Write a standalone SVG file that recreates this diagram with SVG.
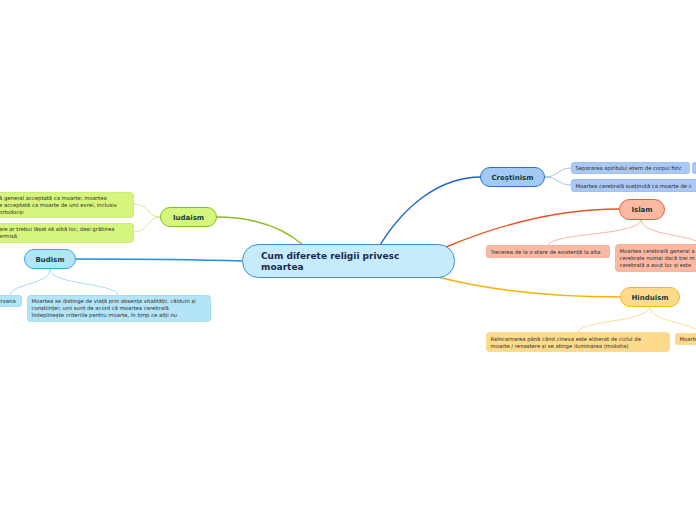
<svg xmlns="http://www.w3.org/2000/svg" width="696" height="520" viewBox="0 0 696 520">
<style>
.t{font-family:"DejaVu Sans",Verdana,sans-serif;font-size:5.3px;fill:#2b2b2b}
.h{font-family:"DejaVu Sans",Verdana,sans-serif;font-size:7px;font-weight:bold;fill:#173b38;text-anchor:middle}
.c{font-family:"DejaVu Sans",Verdana,sans-serif;font-size:9px;font-weight:bold;fill:#1b2a4c}
.thin{fill:none;stroke-width:0.8}
.main{fill:none;stroke-width:1.4}
</style>
<rect width="696" height="520" fill="#ffffff"/>
<g id="connectors">
<path class="main" stroke="#1a5fd6" d="M380,245 C405,205 440,177 481,177"/>
<path class="main" stroke="#f0521e" d="M446,247 C515,218 575,209 620,209"/>
<path class="main" stroke="#f9ae14" d="M438,277 C500,293 570,297 621,297"/>
<path class="main" stroke="#8bbd1a" d="M303,245 C280,225 250,217 216,217"/>
<path class="main" stroke="#1a8fe0" d="M243,261 C180,259 120,259 75,259"/>
<path class="thin" stroke="#8ab0ee" d="M545,177 C558,177 558,168 571,168"/>
<path class="thin" stroke="#8ab0ee" d="M545,177 C558,177 558,185 571,185"/>
<path class="thin" stroke="#f5a389" d="M641,219 C641,236 555,232 548,245"/>
<path class="thin" stroke="#f5a389" d="M641,219 C641,236 692,234 700,244"/>
<path class="thin" stroke="#fbd47a" d="M650,306 C650,322 582,320 578,332"/>
<path class="thin" stroke="#fbd47a" d="M650,306 C650,322 690,322 700,332"/>
<path class="thin" stroke="#c5e67a" d="M160,217 C148,217 148,204 134,204"/>
<path class="thin" stroke="#c5e67a" d="M160,217 C148,217 148,232 134,232"/>
<path class="thin" stroke="#8fd3f2" d="M50,269 C50,285 12,283 10,295"/>
<path class="thin" stroke="#8fd3f2" d="M50,269 C50,285 116,283 118,295"/>
</g>
<g id="central">
<rect x="242.5" y="244.5" width="212" height="33" rx="16" fill="#c6ebfb" stroke="#3a8fd0" stroke-width="1"/>
<text class="c" x="261" y="258.5">Cum diferete religii privesc</text>
<text class="c" x="261" y="270">moartea</text>
</g>
<g id="crestinism">
<rect x="480.5" y="167.5" width="64" height="19" rx="9.5" fill="#a3c9f5" stroke="#2f6fd0" stroke-width="1"/>
<text class="h" x="512.5" y="179.5">Creștinism</text>
</g>
<g id="crestinism-1">
<rect x="571.5" y="162.5" width="118" height="11" rx="2" fill="#a9c8f4" stroke="#8ab0ee" stroke-width="0.7"/>
<text class="t" x="575.5" y="170">Separarea spiritului etern de corpul fizic</text>
<rect x="692.5" y="162.5" width="10" height="11" rx="2" fill="#a9c8f4" stroke="#8ab0ee" stroke-width="0.7"/>
</g>
<g id="crestinism-2">
<rect x="571.5" y="179.5" width="140" height="12" rx="2" fill="#a9c8f4" stroke="#8ab0ee" stroke-width="0.7"/>
<text class="t" x="575.5" y="187.5">Moartea cerebrală susținută ca moarte de c</text>
</g>
<g id="islam">
<rect x="619.5" y="199.5" width="45" height="20" rx="10" fill="#f9b9a3" stroke="#f05a28" stroke-width="1"/>
<text class="h" x="642" y="212">Islam</text>
</g>
<g id="islam-1">
<rect x="486.5" y="245.5" width="123" height="12" rx="2" fill="#f9b9a3" stroke="#f5a389" stroke-width="0.7"/>
<text class="t" x="490.5" y="253.5">Trecerea de la o stare de existență la alta</text>
</g>
<g id="islam-2">
<rect x="615.5" y="244.5" width="100" height="27" rx="3" fill="#f9b9a3" stroke="#f5a389" stroke-width="0.7"/>
<text class="t" x="619.5" y="252.5">Moartea cerebrală general a</text>
<text class="t" x="619.5" y="259.5">cerebrale numai dacă trei m</text>
<text class="t" x="619.5" y="266.5">cerebrală a avut loc și este</text>
</g>
<g id="hinduism">
<rect x="620.5" y="287.5" width="59" height="19" rx="9.5" fill="#fedb8c" stroke="#f8b520" stroke-width="1"/>
<text class="h" x="650" y="299.5">Hinduism</text>
</g>
<g id="hinduism-1">
<rect x="486.5" y="332.5" width="183" height="19" rx="3" fill="#fedb8c" stroke="#fbd47a" stroke-width="0.7"/>
<text class="t" x="490.5" y="340.5">Reîncarnarea până când cineva este eliberat de ciclul de</text>
<text class="t" x="490.5" y="347.5">moarte / renaștere și se atinge iluminarea (moksha)</text>
</g>
<g id="hinduism-2">
<rect x="675.5" y="333.5" width="40" height="11" rx="2" fill="#fedb8c" stroke="#fbd47a" stroke-width="0.7"/>
<text class="t" x="679.5" y="341">Moartea</text>
</g>
<g id="iudaism">
<rect x="160.5" y="207.5" width="56" height="19" rx="9.5" fill="#d6f57d" stroke="#7fbf1c" stroke-width="1"/>
<text class="h" x="188.5" y="219.5">Iudaism</text>
</g>
<g id="iudaism-1">
<rect x="-20.5" y="192.5" width="154" height="25" rx="3" fill="#d6f57d" stroke="#bde65a" stroke-width="0.7"/>
<text class="t" x="-1" y="200">ă general acceptată ca moarte; moartea</text>
<text class="t" x="-1" y="207">e acceptată ca moarte de unii evrei, inclusiv</text>
<text class="t" x="-1" y="214">ortodocși</text>
</g>
<g id="iudaism-2">
<rect x="-20.5" y="223.5" width="154" height="19" rx="3" fill="#d6f57d" stroke="#bde65a" stroke-width="0.7"/>
<text class="t" x="-1" y="231">are ar trebui lăsat să aibă loc, deși grăbirea</text>
<text class="t" x="-1" y="238">ermisă</text>
</g>
<g id="budism">
<rect x="24.5" y="249.5" width="51" height="19" rx="9.5" fill="#b3e4f8" stroke="#3aa8e0" stroke-width="1"/>
<text class="h" x="50" y="261.5">Budism</text>
</g>
<g id="budism-1">
<rect x="-30.5" y="295.5" width="52" height="11" rx="2" fill="#b3e4f8" stroke="#8fd3f2" stroke-width="0.7"/>
<text class="t" x="-1" y="302.5">irvana</text>
</g>
<g id="budism-2">
<rect x="27.5" y="295.5" width="183" height="26" rx="3" fill="#b3e4f8" stroke="#8fd3f2" stroke-width="0.7"/>
<text class="t" x="31.5" y="303">Moartea se distinge de viață prin absența vitalității, căldurii și</text>
<text class="t" x="31.5" y="310">conștiinței; unii sunt de acord că moartea cerebrală</text>
<text class="t" x="31.5" y="317">îndeplinește criteriile pentru moarte, în timp ce alții nu</text>
</g>
</svg>
